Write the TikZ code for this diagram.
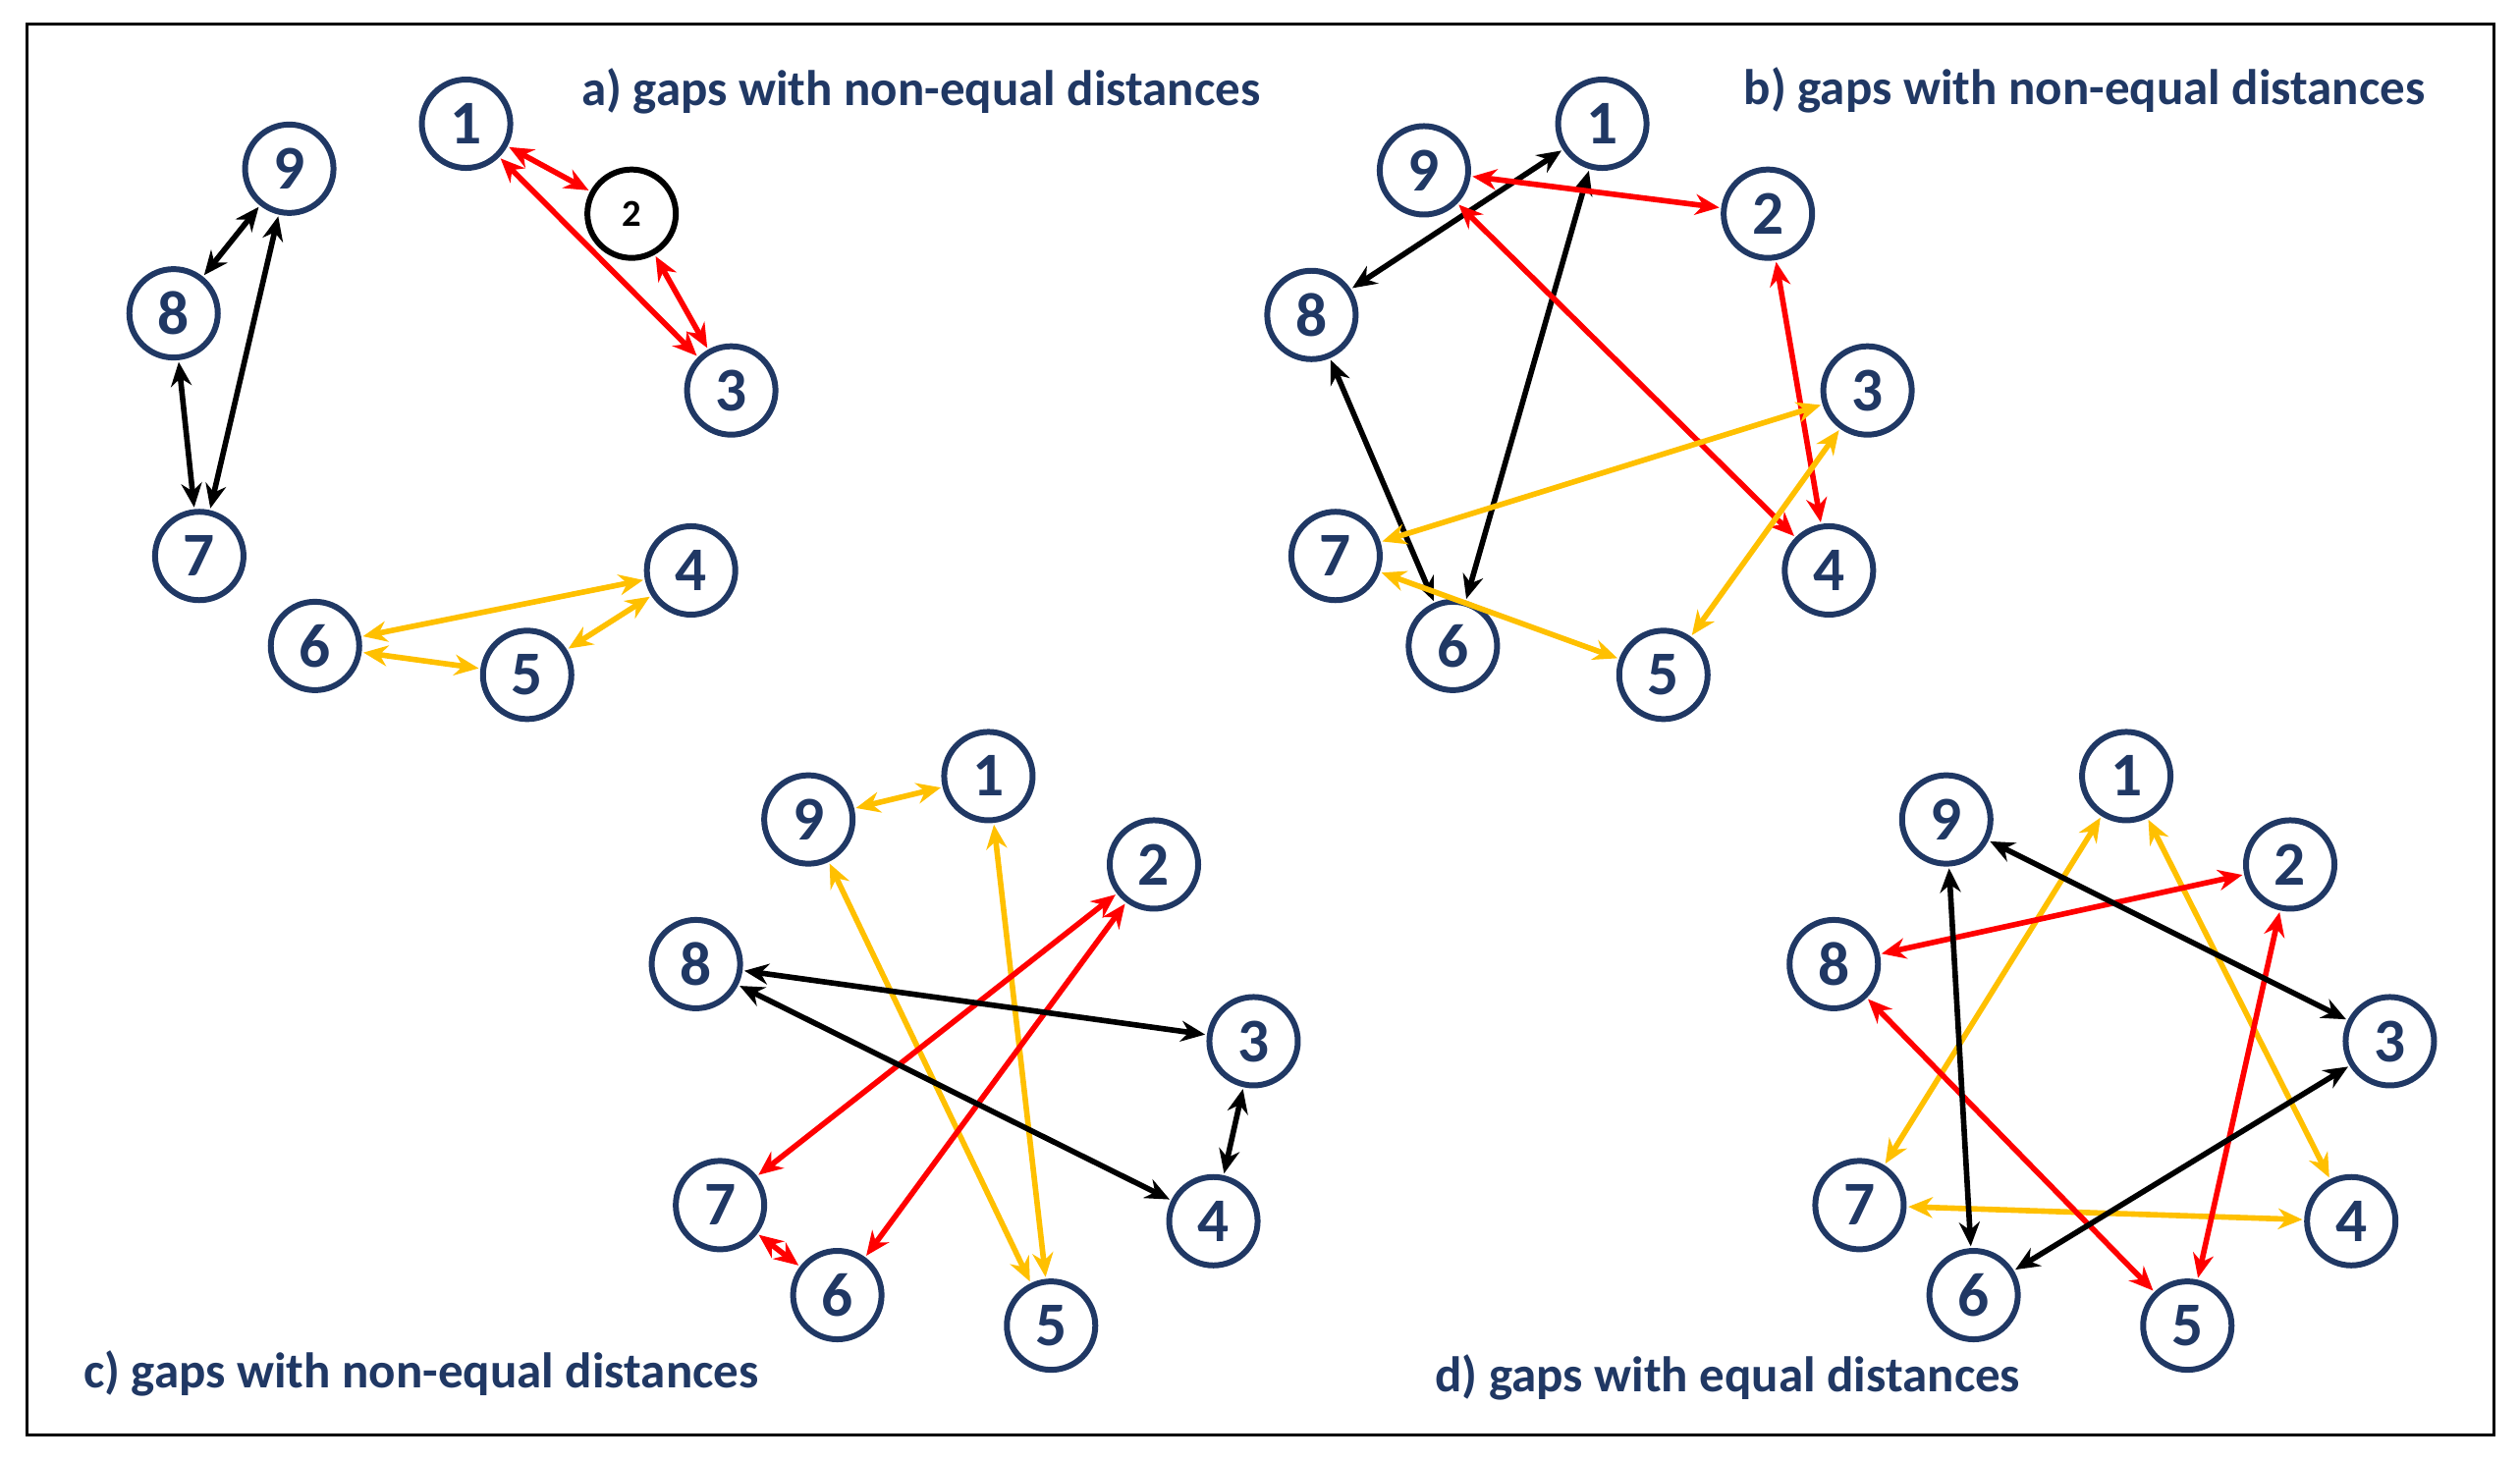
\documentclass[tikz,border=0pt]{standalone}
\usepackage{fontspec}
\setmainfont{Carlito}
\usetikzlibrary{arrows.meta}
\definecolor{navy}{HTML}{203864}
\definecolor{yel}{HTML}{FFC000}
\definecolor{rd}{HTML}{FF0000}
\begin{document}
\begin{tikzpicture}[x=0.01636cm,y=-0.01636cm,
 n/.style={circle,draw=navy,line width=1.7pt,minimum size=0.9cm,inner sep=0pt,fill=white,text=navy,font=\fontsize{18}{18}\selectfont\bfseries},
 e/.style={line width=1.6pt,{Stealth[length=7pt,width=6pt]}-{Stealth[length=7pt,width=6pt]},shorten <=0.5pt,shorten >=0.5pt},
 ek/.style={e,black}, er/.style={e,rd}, ey/.style={e,yel},
 t/.style={text=navy,font=\fontsize{14.5}{15}\selectfont\bfseries}]
\useasboundingbox (0,0) rectangle (1568,909);
\draw[line width=0.8pt] (17,15) rectangle (1552,893);
% panel a
\node[n] (a1) at (290,77) {1};
\node[circle,draw=black,line width=1.7pt,minimum size=0.9cm,inner sep=0pt,fill=white,font=\fontsize{11}{11}\selectfont\bfseries] (a2) at (393,133) {2};
\node[n] (a3) at (455,243) {3};
\node[n] (a9) at (180,105) {9};
\node[n] (a8) at (108,195) {8};
\node[n] (a7) at (124,346) {7};
\node[n] (a6) at (196,402) {6};
\node[n] (a5) at (328,420) {5};
\node[n] (a4) at (430,355) {4};
\draw[er] (a1)--(a2); \draw[er] (a1)--(a3); \draw[er] (a2)--(a3);
\draw[ek] (a9)--(a8); \draw[ek] (a8)--(a7); \draw[ek] (a7)--(a9);
\draw[ey] (a6)--(a4); \draw[ey] (a6)--(a5); \draw[ey] (a5)--(a4);
\node[t] (ta) at (573,57) {a) gaps with non-equal distances};
% panel b
\node[n] (b1) at (997,77) {1};
\node[n] (b9) at (886,106) {9};
\node[n] (b2) at (1100,133) {2};
\node[n] (b8) at (816,196) {8};
\node[n] (b3) at (1162,243) {3};
\node[n] (b7) at (831,346) {7};
\node[n] (b4) at (1138,355) {4};
\node[n] (b6) at (904,402) {6};
\node[n] (b5) at (1035,420) {5};
\draw[ek] (b1)--(b8); \draw[ek] (b1)--(b6); \draw[ek] (b8)--(b6);
\draw[er] (b9)--(b2); \draw[er] (b9)--(b4); \draw[er] (b2)--(b4);
\draw[ey] (b3)--(b7); \draw[ey] (b3)--(b5); \draw[ey] (b7)--(b5);
\node[t] (tb) at (1297,56) {b) gaps with non-equal distances};
% panel c
\node[n] (c1) at (615,483) {1};
\node[n] (c9) at (503,510) {9};
\node[n] (c2) at (718,538) {2};
\node[n] (c8) at (433,600) {8};
\node[n] (c3) at (780,648) {3};
\node[n] (c7) at (448,750) {7};
\node[n] (c4) at (755,760) {4};
\node[n] (c6) at (521,806) {6};
\node[n] (c5) at (654,825) {5};
\draw[ey] (c9)--(c1); \draw[ey] (c1)--(c5); \draw[ey] (c9)--(c5);
\draw[er] (c2)--(c7); \draw[er] (c2)--(c6); \draw[er] (c7)--(c6);
\draw[ek] (c8)--(c3); \draw[ek] (c8)--(c4); \draw[ek] (c3)--(c4);
\node[t] (tc) at (262,855) {c) gaps with non-equal distances};
% panel d
\node[n] (d1) at (1323,483) {1};
\node[n] (d9) at (1211,510) {9};
\node[n] (d2) at (1425,538) {2};
\node[n] (d8) at (1141,600) {8};
\node[n] (d3) at (1487,648) {3};
\node[n] (d7) at (1157,750) {7};
\node[n] (d4) at (1463,760) {4};
\node[n] (d6) at (1228,806) {6};
\node[n] (d5) at (1361,825) {5};
\draw[ey] (d1)--(d7); \draw[ey] (d1)--(d4); \draw[ey] (d7)--(d4);
\draw[er] (d2)--(d8); \draw[er] (d2)--(d5); \draw[er] (d8)--(d5);
\draw[ek] (d9)--(d3); \draw[ek] (d9)--(d6); \draw[ek] (d3)--(d6);
\node[t] (td) at (1075,857) {d) gaps with equal distances};
\end{tikzpicture}
\end{document}
